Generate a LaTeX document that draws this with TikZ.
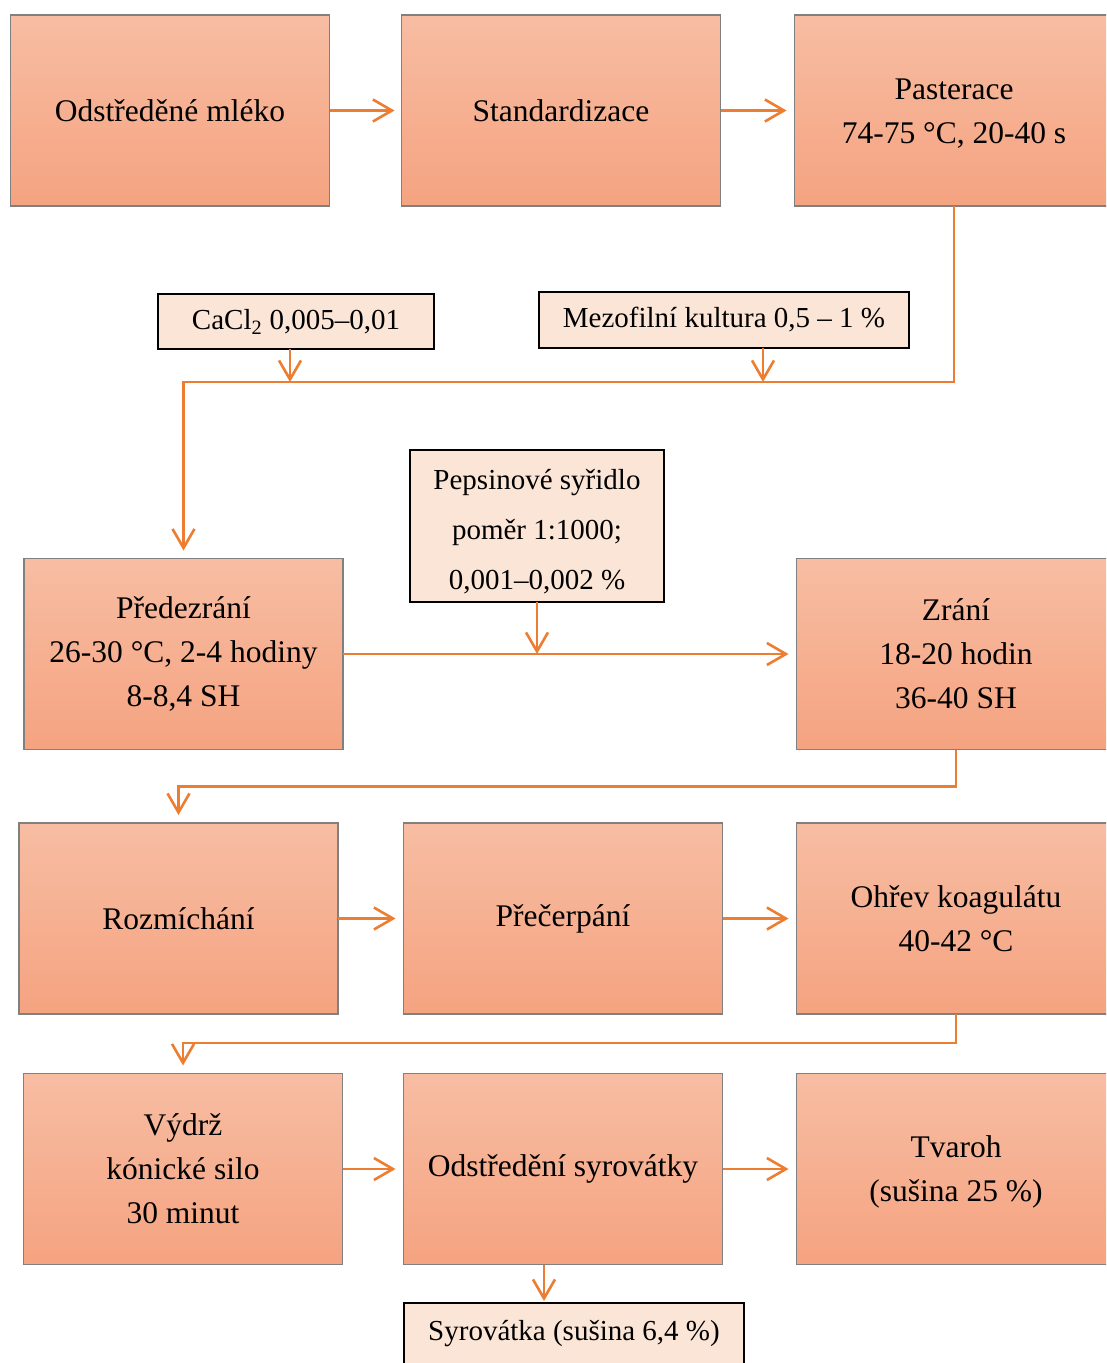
\documentclass[tikz,border=0pt]{standalone}
\usepackage{fontspec}
\setmainfont{Liberation Serif}
\usetikzlibrary{arrows.meta}
\definecolor{arr}{HTML}{ED7D31}
\definecolor{boxtop}{HTML}{F7BDA3}
\definecolor{boxbot}{HTML}{F5A380}
\definecolor{boxline}{HTML}{808080}
\definecolor{smallfill}{HTML}{FBE5D6}
\tikzset{
  mainbox/.style={draw=boxline, line width=1.2pt, top color=boxtop, bottom color=boxbot,
    minimum width=319pt, minimum height=191pt, inner sep=0pt, outer sep=0pt, align=center,
    font=\fontsize{31.5}{44}\selectfont},
  smallbox/.style={draw=black, line width=1.3pt, fill=smallfill, inner sep=0pt, outer sep=0pt,
    align=center, font=\fontsize{29}{50}\selectfont},
  conn/.style={draw=arr, line width=2.6pt,
    -{Straight Barb[length=19pt,width=22pt,line width=2.6pt]}}
}
\begin{document}
\begin{tikzpicture}[x=1pt,y=-1pt]
\useasboundingbox (0,0) rectangle (1106,1363);
\clip (0,0) rectangle (1106,1363);
\fill[white] (0,0) rectangle (1106,1363);
% row 1
\node[mainbox] (A) at (170,110.5) {Odstředěné mléko};
\node[mainbox] (B) at (561,110.5) {Standardizace};
\node[mainbox] (C) at (954,110.5) {\rule{0pt}{27pt}Pasterace\\74-75 °C, 20-40 s};
% additives
\node[smallbox, minimum width=276pt, minimum height=55pt] (Ca) at (296,321.5) {CaCl\textsubscript{2} 0,005–0,01};
\node[smallbox, minimum width=370pt, minimum height=56pt] (Mz) at (724,320) {Mezofilní kultura 0,5 – 1 \%};
% row 2
\node[mainbox] (P) at (183.5,654) {Předezrání\\26-30 °C, 2-4 hodiny\\8-8,4 SH};
\node[mainbox] (Z) at (956,654) {Zrání\\18-20 hodin\\36-40 SH};
\node[smallbox, minimum width=254pt, minimum height=152pt] (Pep) at (537,526) {\rule{0pt}{32pt}Pepsinové syřidlo\\poměr 1:1000;\\0,001–0,002 \%};
% row 3
\node[mainbox] (R) at (178.5,918.5) {Rozmíchání};
\node[mainbox] (Pr) at (563,918.5) {Přečerpání};
\node[mainbox] (Oh) at (956,918.5) {Ohřev koagulátu\\40-42 °C};
% row 4
\node[mainbox] (V) at (183,1169) {Výdrž\\kónické silo\\30 minut};
\node[mainbox] (Os) at (563,1169) {Odstředění syrovátky};
\node[mainbox] (T) at (956,1169) {\rule{0pt}{27pt}Tvaroh\\(sušina 25 \%)};
\node[smallbox, minimum width=340pt, minimum height=62pt, anchor=north] (S) at (574,1303) {Syrovátka (sušina 6,4 \%)};
% connectors row 1
\draw[conn, shorten >=7pt] (A.east) -- (B.west);
\draw[conn, shorten >=8pt] (B.east) -- (C.west);
% Pasterace down and round to Předezrání
\coordinate (j1) at ([yshift=-176pt]C.south);
\draw[conn, shorten >=8pt] (C.south) -- (j1) -| (P.north);
\draw[conn] ([xshift=-6pt]Ca.south) -- ([xshift=-6pt]Ca.south |- j1);
\draw[conn] ([xshift=39pt]Mz.south) -- ([xshift=39pt]Mz.south |- j1);
% row 2
\draw[conn, shorten >=8pt] (P.east) -- (Z.west);
\draw[conn] (Pep.south) -- (Pep.south |- P.east);
% Zrání to Rozmíchání
\coordinate (j2) at ([yshift=-37pt]Z.south);
\draw[conn, shorten >=8pt] (Z.south) -- (j2) -| (R.north);
% row 3
\draw[conn, shorten >=8pt] (R.east) -- (Pr.west);
\draw[conn, shorten >=8pt] (Pr.east) -- (Oh.west);
% Ohřev to Výdrž
\coordinate (j3) at ([yshift=-29pt]Oh.south);
\draw[conn, shorten >=8pt] (Oh.south) -- (j3) -| (V.north);
% row 4
\draw[conn, shorten >=8pt] (V.east) -- (Os.west);
\draw[conn, shorten >=8pt] (Os.east) -- (T.west);
\draw[conn, shorten >=2pt] ([xshift=-19pt]Os.south) -- ([xshift=-19pt]Os.south |- S.north);
\end{tikzpicture}
\end{document}
